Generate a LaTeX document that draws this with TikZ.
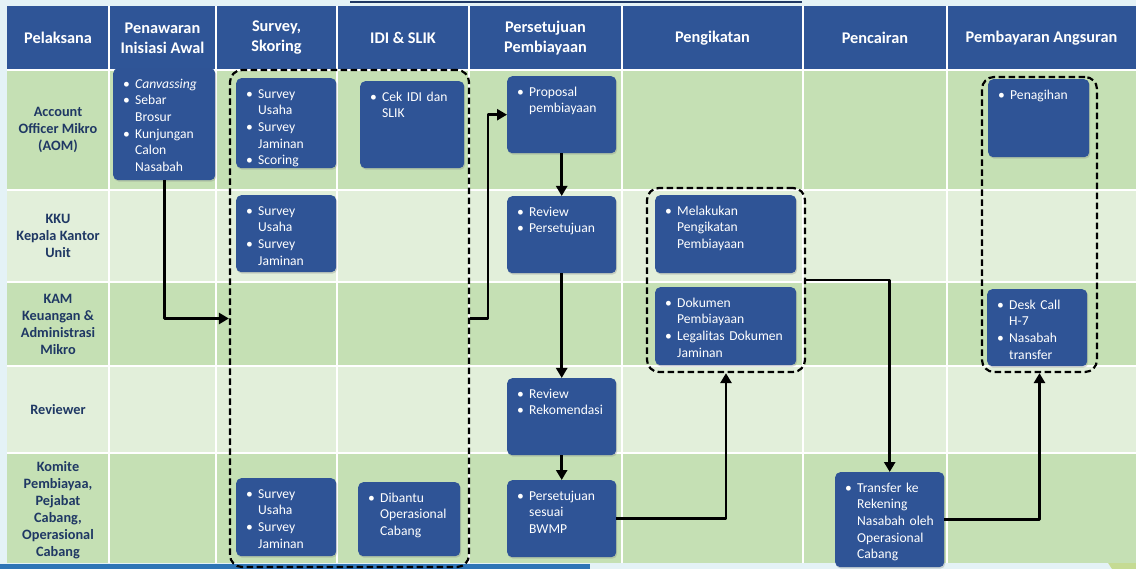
\documentclass[tikz,border=0pt]{standalone}
\usepackage{fontspec}
\setmainfont{Carlito}
\usetikzlibrary{arrows.meta,shadows}
\definecolor{hdrblue}{HTML}{2F5597}
\definecolor{boxblue}{HTML}{2F5496}
\definecolor{rowdark}{HTML}{C5E0B4}
\definecolor{rowlight}{HTML}{E2EFDA}
\definecolor{lblblue}{HTML}{1F3864}
\definecolor{bgcyan}{HTML}{E4F2F6}
\definecolor{bandblue}{HTML}{2E75B6}
\definecolor{leafgreen}{HTML}{B9D26A}
\newcommand{\bul}[1]{\makebox[12pt][l]{\textbullet}\mbox{#1}}
\newcommand{\ind}[1]{\hspace*{12pt}\mbox{#1}}
\tikzset{
	hdr/.style={text=white, font=\fontsize{16.3}{20}\selectfont\bfseries, align=center},
	lbl/.style={text=lblblue, font=\fontsize{14.3}{17}\selectfont\bfseries, align=center},
	task/.style={fill=boxblue, rounded corners=5pt, text=white, font=\fontsize{13.6}{16.7}\selectfont,
		align=left, anchor=north west, inner xsep=10pt, inner ysep=8pt, text height=12pt,
		drop shadow={shadow xshift=1pt, shadow yshift=-1.5pt, opacity=.3}},
	grp/.style={draw=black, line width=2.2pt, dash pattern=on 6.5pt off 3.5pt, rounded corners=12pt, inner sep=0pt},
	flow/.style={line width=2.6pt, -{Triangle[length=10pt,width=11pt]}},
}
\begin{document}
\begin{tikzpicture}[x=1pt, y=-1pt, line join=round]
		\useasboundingbox (0,0) rectangle (1136,569);
		% background of the slide
		\fill[bgcyan] (0,0) rectangle (1136,569);
		\fill[bandblue] (0,564) rectangle (590,569);
		\fill[leafgreen, opacity=.7] (1136,425) -- (1090,485) .. controls (1078,502) and (1080,520) .. (1090,535) -- (1112,569) -- (1136,569) -- cycle;
		\draw[line width=1.5pt, lblblue] (350,2) -- (802,2);
		% table
		\fill[hdrblue] (7,6) rectangle (1136,70);
		\fill[rowdark] (7,70) rectangle (1136,190);
		\fill[rowlight] (7,190) rectangle (1136,282);
		\fill[rowdark] (7,282) rectangle (1136,366);
		\fill[rowlight] (7,366) rectangle (1136,453);
		\fill[rowdark] (7,453) rectangle (1136,563);
		\foreach \cx in {109,216,337,469,622,803,947}
			\draw[white, line width=2pt] (\cx,6) -- (\cx,563);
		\foreach \ry in {70,190,282,366,453}
			\draw[white, line width=2pt] (7,\ry) -- (1136,\ry);
		% header
		\node[hdr] (hPelaksana) at (58,38) {Pelaksana};
		\node[hdr] (hPenawaran) at (162.5,38) {Penawaran\\Inisiasi Awal};
		\node[hdr] (hSurvey) at (276.5,38) {Survey,\\Skoring};
		\node[hdr] (hIdi) at (403,38) {IDI \& SLIK};
		\node[hdr] (hSetuju) at (545.5,38) {Persetujuan\\Pembiayaan};
		\node[hdr] (hIkat) at (712.5,38) {Pengikatan};
		\node[hdr] (hCair) at (875,38) {Pencairan};
		\node[hdr] (hBayar) at (1041.5,38) {Pembayaran Angsuran};
		% pelaksana
		\node[lbl] (rAOM) at (58,130) {Account\\Officer Mikro\\(AOM)};
		\node[lbl] (rKKU) at (58,236) {KKU\\Kepala Kantor\\Unit};
		\node[lbl] (rKAM) at (58,324) {KAM\\Keuangan \&\\Administrasi\\Mikro};
		\node[lbl] (rReviewer) at (58,409.5) {Reviewer};
		\node[lbl] (rKomite) at (58,510) {Komite\\Pembiayaa,\\Pejabat\\Cabang,\\Operasional\\Cabang};
		% groups
		\node[grp, minimum width=239pt, minimum height=497pt] (grpSurvey) at (349.5,318.5) {};
		\node[grp, minimum width=158pt, minimum height=184pt] (grpIkat) at (726,280) {};
		\node[grp, minimum width=115pt, minimum height=295pt] (grpBayar) at (1039.5,224.5) {};
		% tasks
		\node[task, text width=82pt, text depth=84pt] (canv) at (113,68) {\bul{\textit{Canvassing}}\\\bul{Sebar}\\\ind{Brosur}\\\bul{Kunjungan}\\\ind{Calon}\\\ind{Nasabah}};
		\node[task, text width=80pt, text depth=62pt] (survAOM) at (236,78) {\bul{Survey}\\\ind{Usaha}\\\bul{Survey}\\\ind{Jaminan}\\\bul{Scoring}};
		\node[task, text width=84pt, text depth=59pt] (cekIdi) at (360,81) {\bul{Cek IDI dan}\\\ind{SLIK}};
		\node[task, text width=89pt, text depth=49pt] (proposal) at (507,76) {\bul{Proposal}\\\ind{pembiayaan}};
		\node[task, text width=80pt, text depth=49pt] (survKKU) at (236,195) {\bul{Survey}\\\ind{Usaha}\\\bul{Survey}\\\ind{Jaminan}};
		\node[task, text width=89pt, text depth=49pt] (revSetuju) at (507,196) {\bul{Review}\\\bul{Persetujuan}};
		\node[task, text width=89pt, text depth=49pt] (revRekom) at (507,378) {\bul{Review}\\\bul{Rekomendasi}};
		\node[task, text width=89pt, text depth=49pt] (setujuBwmp) at (507,480) {\bul{Persetujuan}\\\ind{sesuai}\\\ind{BWMP}};
		\node[task, text width=80pt, text depth=50pt] (survKomite) at (236,478) {\bul{Survey}\\\ind{Usaha}\\\bul{Survey}\\\ind{Jaminan}};
		\node[task, text width=82pt, text depth=46pt] (dibantu) at (358,482) {\bul{Dibantu}\\\ind{Operasional}\\\ind{Cabang}};
		\node[task, text width=121pt, text depth=50pt] (lakuIkat) at (655,195) {\bul{Melakukan}\\\ind{Pengikatan}\\\ind{Pembiayaan}};
		\node[task, text width=121pt, text depth=50pt] (dokumen) at (655,287) {\bul{Dokumen}\\\ind{Pembiayaan}\\\bul{Legalitas Dokumen}\\\ind{Jaminan}};
		\node[task, text width=89pt, text depth=67pt] (transfer) at (835,472) {\bul{Transfer ke}\\\ind{Rekening}\\\ind{Nasabah oleh}\\\ind{Operasional}\\\ind{Cabang}};
		\node[task, text width=81pt, text depth=50pt] (tagih) at (988,79) {\bul{Penagihan}};
		\node[task, text width=80pt, text depth=49pt] (deskCall) at (987,289) {\bul{Desk Call}\\\ind{H-7}\\\bul{Nasabah}\\\ind{transfer}};
		% flow
		\draw[flow] (canv.south) |- (grpSurvey.west);
		\draw[flow] (grpSurvey.east) -- ++(18,0) |- (proposal.west);
		\draw[flow] (proposal.south) -- (revSetuju.north);
		\draw[flow] (revSetuju.south) -- (revRekom.north);
		\draw[flow] (revRekom.south) -- (setujuBwmp.north);
		\draw[flow] (setujuBwmp.east) -| (grpIkat.south);
		\draw[flow] (grpIkat.east) -| (transfer.north);
		\draw[flow] (transfer.east) -| (grpBayar.south);
	\end{tikzpicture}
\end{document}
